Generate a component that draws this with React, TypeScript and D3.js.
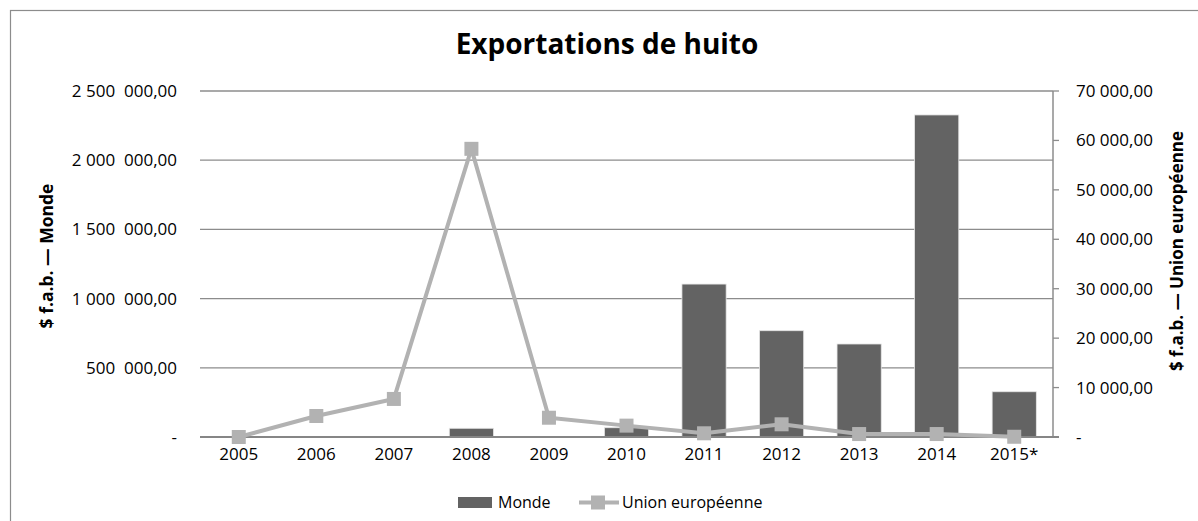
import React from "react";
import * as d3 from "d3";

const categories = ["2005", "2006", "2007", "2008", "2009", "2010", "2011", "2012", "2013", "2014", "2015*"];
const mondeValues = [0, 0, 0, 63000, 0, 67000, 1105000, 768000, 672000, 2327000, 327000];
const ueValues = [0, 4250, 7700, 58300, 3900, 2300, 750, 2570, 600, 600, 50];
const leftTicks = [0, 500000, 1000000, 1500000, 2000000, 2500000];
const leftTickLabels = ["-", "500  000,00", "1 000  000,00", "1 500  000,00", "2 000  000,00", "2 500  000,00"];
const rightTicks = [0, 10000, 20000, 30000, 40000, 50000, 60000, 70000];
const rightTickLabels = ["-", "10 000,00", "20 000,00", "30 000,00", "40 000,00", "50 000,00", "60 000,00", "70 000,00"];

const W = 1198;
const H = 521;
const FONT = "'Open Sans', sans-serif";

export default function App() {
  const left = 200;
  const right = 1053;
  const top = 91;
  const bottom = 437;

  const x = d3.scaleBand<string>().domain(categories).range([left, right]).paddingInner(0.43).paddingOuter(0.215);
  const yL = d3.scaleLinear().domain([0, 2500000]).range([bottom, top]);
  const yR = d3.scaleLinear().domain([0, 70000]).range([bottom, top]);
  const cx = (c: string) => (x(c) as number) + x.bandwidth() / 2;

  const line = d3
    .line<number>()
    .x((_, i) => cx(categories[i]))
    .y((d) => yR(d));

  return (
    <svg width={W} height={H} style={{ position: "absolute", left: 0, top: 0 }} fontFamily={FONT}>
      <rect x={0} y={0} width={W} height={H} fill="#ffffff" />
      <rect x={10.5} y={10.5} width={W + 20} height={H + 20} fill="none" stroke="#8c8c8c" strokeWidth={1.2} />
      <text x={607} y={54} textAnchor="middle" fontSize={28} fontWeight="bold" fill="#000">
        Exportations de huito
      </text>

      {leftTicks.map((t, i) =>
        t === 0 ? null : (
          <line key={"g" + i} x1={left} x2={right} y1={yL(t)} y2={yL(t)} stroke="#8c8c8c" strokeWidth={1.3} />
        )
      )}
      {leftTicks.map((t, i) => (
        <text key={"l" + i} x={177} y={yL(t)} dy="0.35em" textAnchor="end" fontSize={17} fill="#000" style={{ whiteSpace: "pre" }}>
          {leftTickLabels[i]}
        </text>
      ))}
      {rightTicks.map((t, i) => (
        <g key={"r" + i}>
          <line x1={right} x2={right + 6} y1={yR(t)} y2={yR(t)} stroke="#8c8c8c" strokeWidth={1.3} />
          <text x={1076} y={yR(t)} dy="0.35em" textAnchor="start" fontSize={17} fill="#000">
            {rightTickLabels[i]}
          </text>
        </g>
      ))}

      {mondeValues.map((v, i) =>
        v > 0 ? (
          <rect
            key={"b" + i}
            x={x(categories[i])}
            y={yL(v)}
            width={x.bandwidth()}
            height={bottom - yL(v)}
            fill="#636363"
            stroke="#e6e6e6"
            strokeWidth={0.8}
          />
        ) : null
      )}

      <line x1={right} x2={right} y1={top} y2={bottom} stroke="#8c8c8c" strokeWidth={1.5} />
      <line x1={left} x2={right + 6} y1={bottom} y2={bottom} stroke="#868686" strokeWidth={1.8} />

      <path d={line(ueValues) || ""} fill="none" stroke="#b2b2b2" strokeWidth={4} strokeLinejoin="round" />
      {ueValues.map((v, i) => (
        <rect key={"m" + i} x={cx(categories[i]) - 7} y={yR(v) - 7} width={14} height={14} fill="#b2b2b2" />
      ))}

      {categories.map((c) => (
        <text key={"x" + c} x={cx(c)} y={460} textAnchor="middle" fontSize={17} fill="#000">
          {c}
        </text>
      ))}

      <text transform={`translate(53,256) rotate(-90)`} textAnchor="middle" fontSize={17.5} fontWeight="bold" fill="#000">
        $ f.a.b. — Monde
      </text>
      <text transform={`translate(1183,251) rotate(-90)`} textAnchor="middle" fontSize={17} fontWeight="bold" fill="#000">
        $ f.a.b. — Union européenne
      </text>

      <rect x={458} y={497} width={34} height={11} fill="#636363" />
      <text x={498} y={508} fontSize={16} fill="#000">
        Monde
      </text>
      <line x1={579} x2={619} y1={502.5} y2={502.5} stroke="#b2b2b2" strokeWidth={4} />
      <rect x={591} y={495.5} width={14} height={14} fill="#b2b2b2" />
      <text x={622} y={508} fontSize={16} fill="#000">
        Union européenne
      </text>
    </svg>
  );
}
